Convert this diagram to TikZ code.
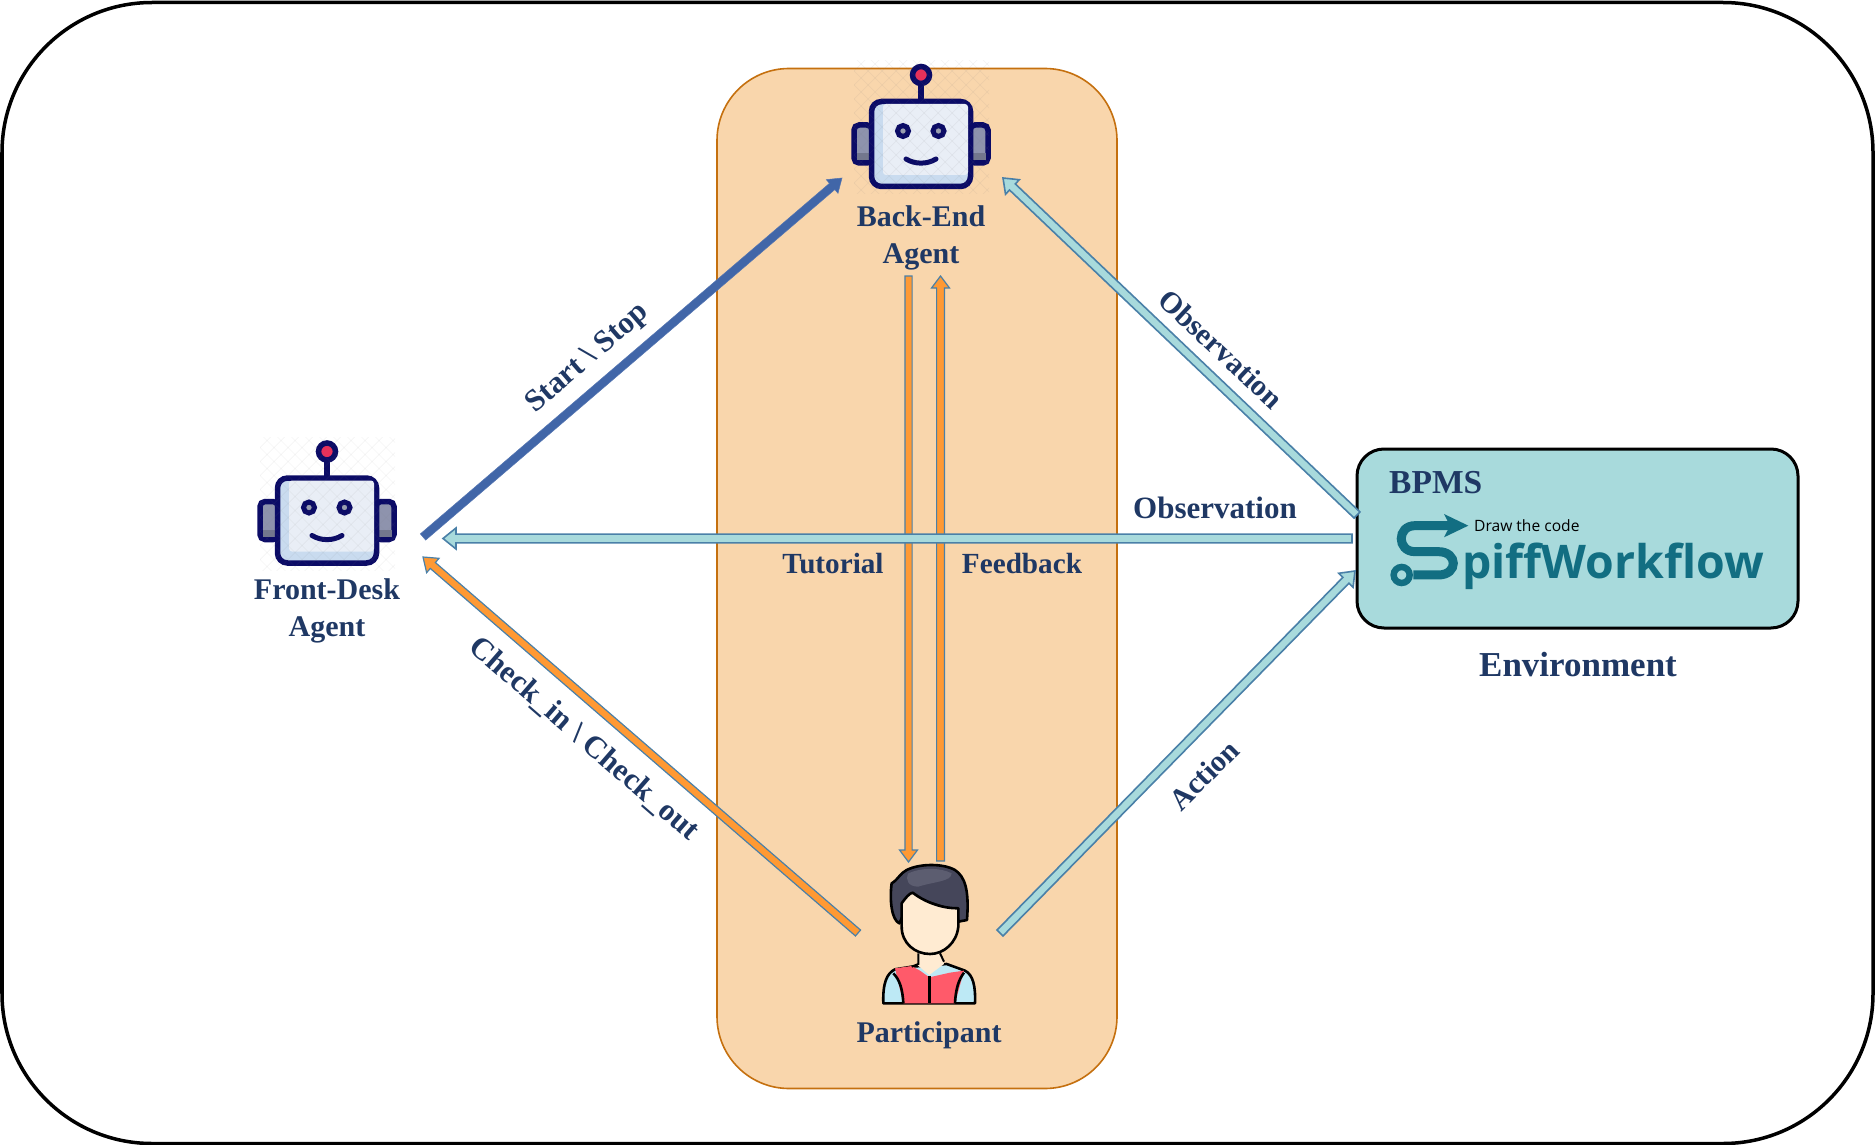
\documentclass[tikz,border=0pt]{standalone}
\usepackage{fontspec}
\setmainfont{Liberation Serif}
\newfontfamily\logofont{Open Sans}
\usetikzlibrary{calc}
\definecolor{txtnavy}{HTML}{1F3864}
\definecolor{panelfill}{HTML}{F9D6AC}
\definecolor{paneledge}{HTML}{C5700F}
\definecolor{tealfill}{HTML}{A8DADC}
\definecolor{arrowedge}{HTML}{4A80A8}
\definecolor{orangefill}{HTML}{FF9933}
\definecolor{bluefill}{HTML}{4166A8}
\definecolor{robotnavy}{HTML}{0B0B66}
\definecolor{robotface}{HTML}{E9EEF6}
\definecolor{robotshade}{HTML}{C9DBEF}
\definecolor{robotear}{HTML}{8E93AD}
\definecolor{robotearlow}{HTML}{73778E}
\definecolor{robotred}{HTML}{E8305A}
\definecolor{robotgray}{HTML}{9A9FB0}
\definecolor{logoteal}{HTML}{126E82}
\definecolor{hairdark}{HTML}{45465A}
\definecolor{hairlight}{HTML}{5C5D70}
\definecolor{skinlight}{HTML}{FFEBD2}
\definecolor{vestred}{HTML}{FF5A6A}
\definecolor{sleeve}{HTML}{BDE9F5}
\tikzset{
  lbl/.style={text=txtnavy,font=\fontsize{30}{36.5}\selectfont\bfseries,inner sep=0pt,align=center},
  lblwide/.style={lbl,font=\fontsize{31}{36.5}\selectfont\bfseries},
  lblnarrow/.style={lbl,font=\fontsize{29.2}{36.5}\selectfont\bfseries},
  tealarrow/.style={fill=tealfill,draw=arrowedge,line width=1.6pt,line join=miter},
  orangearrow/.style={fill=orangefill,draw=arrowedge,line width=1.2pt,line join=miter},
  bluearrow/.style={fill=bluefill,draw=bluefill!90!white,line width=.5pt,line join=miter},
}
% from, to, shaft half width, head half width, head length, style
\newcommand\blockarrow[6]{%
  \coordinate (baN) at ($(#2)!#5pt!(#1)$);
  \draw[#6] ($(#1)!#3pt!90:(#2)$) -- ($(baN)!#3pt!-90:(#1)$) -- ($(baN)!#4pt!-90:(#1)$) -- (#2)
    -- ($(baN)!#4pt!90:(#1)$) -- ($(baN)!#3pt!90:(#1)$) -- ($(#1)!#3pt!-90:(#2)$) -- cycle;
}
\newcommand\robotat[2]{%
  \begin{scope}[shift={(#1,#2)}]
    \foreach \s in {-1,1}{
      \draw[robotnavy,line width=5.5pt,fill=robotear,rounded corners=5pt] (\s*67,-19) rectangle (\s*49,19);
      \fill[robotearlow] (\s*64.5,9) rectangle (\s*52,16.5);
    }
    \draw[robotnavy,line width=5.5pt] (0,-44) -- (0,-60);
    \draw[robotnavy,line width=5.5pt,fill=robotred] (0,-69) circle (8.5);
    \draw[robotnavy,line width=5.5pt,fill=robotshade,rounded corners=10pt] (-49.5,-42.5) rectangle (49.5,42.5);
    \fill[robotface,rounded corners=3pt] (-38,-40) rectangle (47,31);
    \foreach \s in {-18,17.5}{\draw[robotnavy,line width=5pt,fill=robotgray] (\s,-13) circle (5.5);}
    \draw[robotnavy,line width=5pt,line cap=round] (-15,15) .. controls (-6,20.5) and (6,20.5) .. (15,15);
    \begin{scope}
      \clip (-67,-83) rectangle (68,50);
      \foreach \k in {-200,-186,...,200}{
        \draw[gray,opacity=.09,line width=.7pt] (\k-80,-90) -- (\k+80,70);
        \draw[gray,opacity=.09,line width=.7pt] (\k+80,-90) -- (\k-80,70);
      }
    \end{scope}
  \end{scope}
}
\begin{document}
\begin{tikzpicture}[x=1pt,y=-1pt]
\useasboundingbox (0,0) rectangle (1875,1145);
% frames
\node (frame) at (937.5,573) [draw=black,line width=3.5pt,rectangle,rounded corners=150pt,minimum width=1871pt,minimum height=1141pt,inner sep=0pt] {};
\node (panel) at (917,578.5) [draw=paneledge,fill=panelfill,line width=1.6pt,rectangle,rounded corners=72pt,minimum width=400pt,minimum height=1020pt,inner sep=0pt] {};
\node (env) at (1577.5,538.5) [draw=black,fill=tealfill,line width=3pt,rectangle,rounded corners=27pt,minimum width=441pt,minimum height=179pt,inner sep=0pt] {};
% robots
\robotat{327}{520.5}
\robotat{921}{144}
% person (coordinates of a 3x crop)
\begin{scope}[shift={(840,840)},x=.3333pt,y=-.3333pt]
  \draw[black,line width=2.6pt,fill=sleeve,line join=round] (130,490) .. controls (128,430) and (140,400) .. (165,388) -- (215,380) -- (320,372) -- (375,392) .. controls (400,405) and (407,440) .. (405,490) -- cycle;
  \fill[vestred] (165,385) -- (215,378) -- (240,392) -- (268,412) -- (268,490) -- (190,490) -- cycle;
  \fill[vestred] (268,412) -- (330,398) -- (372,392) -- (345,490) -- (268,490) -- cycle;
  \fill[skinlight] (235,335) -- (300,335) -- (312,372) -- (268,405) -- (232,375) -- cycle;
  \draw[black,line width=2pt] (235,340) -- (235,372) -- (215,380);
  \draw[black,line width=2pt] (300,340) -- (312,365);
  \draw[black,line width=2.6pt] (160,400) .. controls (180,420) and (188,450) .. (190,490);
  \draw[black,line width=2.6pt] (372,398) .. controls (355,420) and (347,450) .. (345,490);
  \draw[black,line width=3pt] (268,408) -- (268,490);
  \draw[black,line width=2.6pt,fill=hairdark,line join=round] (178,250) .. controls (155,240) and (148,180) .. (155,130) .. controls (175,118) and (180,100) .. (200,90) .. controls (240,70) and (310,70) .. (345,90) .. controls (375,110) and (388,150) .. (381,240) -- (355,245) -- (350,215) -- (215,170) -- cycle;
  \fill[hairlight] (205,100) .. controls (245,82) and (300,82) .. (335,100) .. controls (335,125) and (280,125) .. (235,140) .. controls (205,140) and (195,120) .. (205,100) -- cycle;
  \draw[black,line width=2.6pt,fill=skinlight,line join=round] (185,190) .. controls (198,172) and (208,160) .. (218,158) .. controls (260,190) and (310,205) .. (355,205) -- (355,260) .. controls (350,310) and (310,342) .. (270,342) .. controls (225,342) and (185,310) .. (185,260) -- cycle;
\end{scope}
% logo
\begin{scope}[shift={(1340,430)},x=.3333pt,y=-.3333pt]
  \draw[logoteal,line width=9pt] (335,287) -- (225,287) .. controls (170,287) and (170,365) .. (225,365) -- (295,365) .. controls (355,365) and (355,435) .. (295,435) -- (220,435);
  \draw[logoteal,line width=6.5pt] (185,435) circle (24);
  \fill[logoteal] (312,252) -- (385,287) -- (312,322) -- (330,287) -- cycle;
\end{scope}
\node (tagline) at (1474,531) [anchor=base west,inner sep=0pt,text=black] {\logofont\fontsize{15.6}{16}\selectfont Draw the code};
\node (logotext) at (1462,578.5) [anchor=base west,inner sep=0pt,text=logoteal] {\logofont\bfseries\fontsize{46.4}{50}\selectfont piffWorkflow};
\node (bpms) at (1389,493.5) [anchor=base west,inner sep=0pt,text=txtnavy,font=\fontsize{33.5}{36}\selectfont\bfseries] {BPMS};
\node (envlabel) at (1578,676) [anchor=base,inner sep=0pt,text=txtnavy,font=\fontsize{35}{36}\selectfont\bfseries] {Environment};
% agent labels
\node (backlabel) at (921,263) [lbl,anchor=base] {Back-End\\Agent};
\node (frontlabel) at (327,636) [lbl,anchor=base] {Front-Desk\\Agent};
\node (partlabel) at (929,1042) [lbl,anchor=base] {Participant};
% connector ends
\coordinate (ssA) at (423,537);   \coordinate (ssB) at (842,178);
\coordinate (obA) at (1357,515);  \coordinate (obB) at (1003,178);
\coordinate (acA) at (1000,933);  \coordinate (acB) at (1355,571);
\coordinate (ciA) at (858,933);   \coordinate (ciB) at (423,557);
\coordinate (tuA) at (908.5,276); \coordinate (tuB) at (908.5,862);
\coordinate (fbA) at (940.5,861); \coordinate (fbB) at (940.5,276);
\coordinate (ofA) at (1352,538.5);\coordinate (ofB) at (443,538.5);
\blockarrow{ssA}{ssB}{4.1}{9}{13}{bluearrow}
\blockarrow{obA}{obB}{4.2}{10}{13}{tealarrow}
\blockarrow{acA}{acB}{4.2}{10}{13}{tealarrow}
\blockarrow{ciA}{ciB}{3.9}{9.5}{13}{orangearrow}
\blockarrow{tuA}{tuB}{3.6}{9}{12}{orangearrow}
\blockarrow{fbA}{fbB}{3.9}{9}{12}{orangearrow}
\blockarrow{ofA}{ofB}{4.4}{10.5}{13}{tealarrow}
% connector labels
\node (ssL) at (588,359) [lblwide,rotate=41] {Start \textbackslash{} Stop};
\node (obL) at (1221,349) [lbl,rotate=-43] {Observation};
\node (ofL) at (1215,518) [lblwide,anchor=base] {Observation};
\node (tuL) at (833,573) [lblnarrow,anchor=base] {Tutorial};
\node (fbL) at (1022,573) [lblnarrow,anchor=base] {Feedback};
\node (ciL) at (584,739) [lblwide,rotate=-41] {Check\_in \textbackslash{} Check\_out};
\node (acL) at (1204,775) [lbl,rotate=45] {Action};
\end{tikzpicture}
\end{document}
